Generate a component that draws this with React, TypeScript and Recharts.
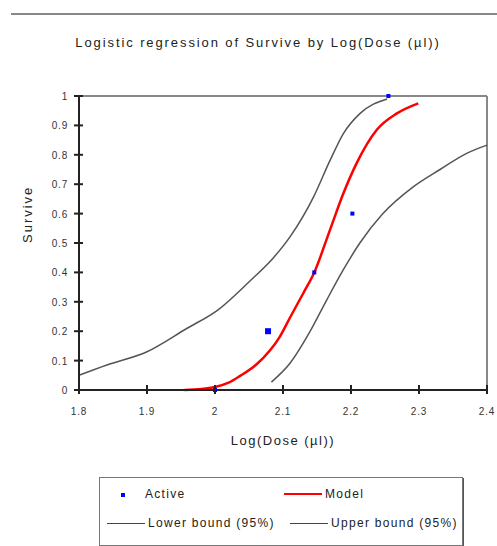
import React from "react";
import { ComposedChart, Line, Scatter, XAxis, YAxis, ReferenceLine } from "recharts";

const xTicks = [1.8, 1.9, 2.0, 2.1, 2.2, 2.3, 2.4];
const yTicks = [0, 0.1, 0.2, 0.3, 0.4, 0.5, 0.6, 0.7, 0.8, 0.9, 1];

// observed survival
const activeX = [2.0, 2.078, 2.146, 2.202, 2.255];
const activeY = [0.0, 0.2, 0.4, 0.6, 1.0];

// fitted logistic model
const modelX = [1.955, 1.98, 2.0, 2.02, 2.037, 2.06, 2.081, 2.095, 2.11, 2.13, 2.146, 2.169, 2.189, 2.208, 2.238, 2.267, 2.299];
const modelY = [0.0, 0.003, 0.01, 0.025, 0.048, 0.085, 0.135, 0.18, 0.245, 0.33, 0.4, 0.544, 0.67, 0.77, 0.885, 0.94, 0.975];

// 95% bounds
const lowerX = [2.083, 2.11, 2.14, 2.164, 2.189, 2.213, 2.247, 2.291, 2.331, 2.37, 2.4];
const lowerY = [0.027, 0.09, 0.2, 0.305, 0.41, 0.5, 0.6, 0.69, 0.75, 0.805, 0.833];
const upperX = [1.8, 1.841, 1.9, 1.959, 2.003, 2.051, 2.086, 2.11, 2.145, 2.169, 2.189, 2.213, 2.253];
const upperY = [0.05, 0.085, 0.13, 0.21, 0.27, 0.37, 0.45, 0.52, 0.657, 0.78, 0.873, 0.94, 0.99];

const zip = (xs: number[], ys: number[]) => xs.map((x, i) => ({ x, y: ys[i] }));

const activeData = zip(activeX, activeY);
const modelData = zip(modelX, modelY);
const lowerData = zip(lowerX, lowerY);
const upperData = zip(upperX, upperY);

const FONT = "'Liberation Sans', Arial, sans-serif";
const TICK_GAP = 10;

const YTick = ({ x, y, payload }: any) => {
    const ax = x + TICK_GAP;
    return (
        <g>
            <line x1={ax - 5} x2={ax + 4} y1={y} y2={y} stroke="#222" strokeWidth={2} />
            <text x={x - 1} y={y} dy={4} textAnchor="end" fontSize={10} letterSpacing={0.8} fill="#333" fontFamily={FONT}>
                {String(payload.value)}
            </text>
        </g>
    );
};

const XTick = ({ x, y, payload }: any) => {
    const ay = y - TICK_GAP;
    return (
        <g>
            <line x1={x} x2={x} y1={ay - 5} y2={ay + 4} stroke="#222" strokeWidth={2} />
            <text x={x} y={y} dy={15} textAnchor="middle" fontSize={10} letterSpacing={0.8} fill="#333" fontFamily={FONT}>
                {String(payload.value)}
            </text>
        </g>
    );
};

const Dot = ({ cx, cy, payload }: any) => {
    const s = payload.y === 0.2 ? 6 : 4;
    return <rect x={cx - s / 2} y={cy - s / 2} width={s} height={s} fill="#0000ff" />;
};

const lineSample = (color: string, w: number) => (
    <span style={{ display: "inline-block", width: 38, height: 0, borderTop: `${w}px solid ${color}`, verticalAlign: "middle", marginRight: 3 }} />
);

export default function App() {
    return (
        <div style={{ position: "absolute", left: 0, top: 0, width: 497, height: 546, background: "#fff", fontFamily: FONT, overflow: "hidden" }}>
            <div style={{ position: "absolute", left: 11, top: 13, width: 486, height: 2, background: "#888" }} />
            <div style={{ position: "absolute", left: 0, width: 516, top: 35, textAlign: "center", fontSize: 13, letterSpacing: 1.9, color: "#222" }}>
                Logistic regression of Survive by Log(Dose (µl))
            </div>
            <ComposedChart width={497} height={546} margin={{ top: 96, right: 10, left: 0, bottom: 126 }}>
                <XAxis
                    dataKey="x" type="number" domain={[1.8, 2.4]} ticks={xTicks} height={30}
                    axisLine={{ stroke: "#222", strokeWidth: 2 }} tickLine={false} tickSize={0} tickMargin={TICK_GAP}
                    tick={<XTick />} allowDuplicatedCategory={false}
                    label={{ value: "Log(Dose (µl))", position: "bottom", offset: 16, fontSize: 13, letterSpacing: 1.5, fill: "#222", fontFamily: FONT }}
                />
                <YAxis
                    dataKey="y" type="number" domain={[0, 1]} ticks={yTicks} width={79}
                    axisLine={{ stroke: "#222", strokeWidth: 2 }} tickLine={false} tickSize={0} tickMargin={TICK_GAP}
                    tick={<YTick />}
                    label={{ value: "Survive", angle: -90, position: "insideLeft", offset: 27, fontSize: 13, letterSpacing: 2, fill: "#222", fontFamily: FONT }}
                />
                <ReferenceLine y={1} stroke="#888" strokeWidth={2} />
                <ReferenceLine x={2.4} stroke="#888" strokeWidth={2} />
                <Line data={upperData} dataKey="y" type="monotone" stroke="#555" strokeWidth={1.5} dot={false} isAnimationActive={false} />
                <Line data={lowerData} dataKey="y" type="monotone" stroke="#555" strokeWidth={1.5} dot={false} isAnimationActive={false} />
                <Line data={modelData} dataKey="y" type="monotone" stroke="#ff0000" strokeWidth={2.5} dot={false} isAnimationActive={false} />
                <Scatter data={activeData} dataKey="y" shape={<Dot />} isAnimationActive={false} />
            </ComposedChart>
            <div style={{
                position: "absolute", left: 99, top: 477, width: 362, height: 67,
                border: "1px solid #777", boxShadow: "1px 1px 0 #555", fontSize: 12, letterSpacing: 1.3, color: "#222",
                whiteSpace: "nowrap"
            }}>
                <div style={{ position: "absolute", left: 21, top: 15, width: 4, height: 4, background: "#0000ff" }} />
                <div style={{ position: "absolute", left: 45, top: 9 }}>Active</div>
                <div style={{ position: "absolute", left: 184, top: 9, display: "flex", alignItems: "center" }}>
                    {lineSample("#ff0000", 2)}Model
                </div>
                <div style={{ position: "absolute", left: 7, top: 38, display: "flex", alignItems: "center" }}>
                    {lineSample("#444", 1)}Lower bound (95%)
                </div>
                <div style={{ position: "absolute", left: 190, top: 38, display: "flex", alignItems: "center" }}>
                    {lineSample("#444", 1)}Upper bound (95%)
                </div>
            </div>
        </div>
    );
}
